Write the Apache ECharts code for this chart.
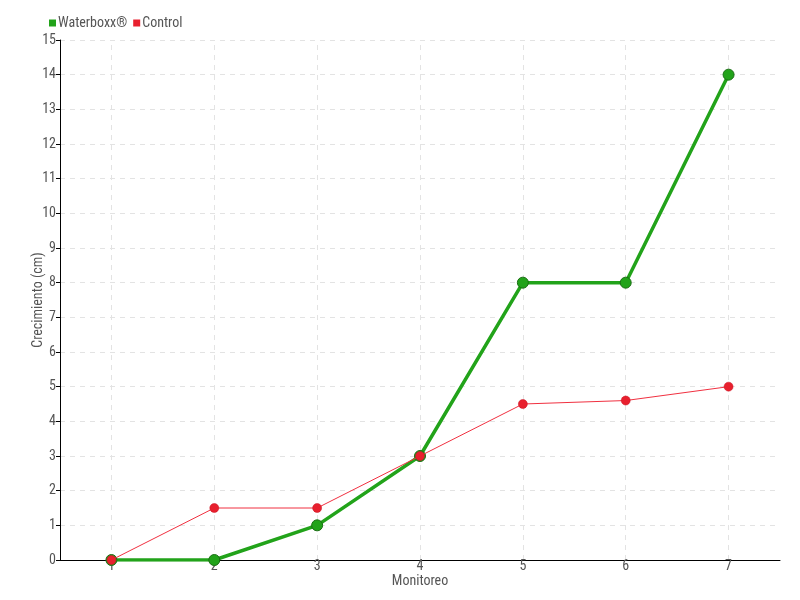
<!DOCTYPE html>
<html><head><meta charset="utf-8">
<script src="https://cdn.jsdelivr.net/npm/echarts@6/dist/echarts.min.js"></script>
<style>html,body{margin:0;padding:0;background:#fff}#c{width:800px;height:600px}</style>
</head><body><div id="c"></div>
<script>
const categories = ['1','2','3','4','5','6','7'];
const waterboxx = [0, 0, 1, 3, 8, 8, 14];
const control = [0, 1.5, 1.5, 3, 4.5, 4.6, 5];
const FONT = "'Roboto Condensed','Liberation Sans Narrow','Roboto',sans-serif";
const chart = echarts.init(document.getElementById('c'));
chart.setOption({
  animation: false,
  textStyle: {fontFamily: FONT},
  legend: {
    left: 44, top: 11, itemWidth: 7, itemHeight: 7, itemGap: 6,
    icon: 'rect',
    itemStyle: {borderWidth: 0},
    textStyle: {fontFamily: FONT, fontSize: 14, color: '#555', padding: [0,0,0,-3]},
    data: ['Waterboxx®', 'Control']
  },
  grid: {left: 60, right: 20, top: 40, bottom: 40},
  xAxis: {
    type: 'category', data: categories, boundaryGap: true,
    name: 'Monitoreo', nameLocation: 'middle', nameGap: 14, nameMoveOverlap: false,
    nameTextStyle: {fontFamily: FONT, fontSize: 14, color: '#555'},
    axisLine: {lineStyle: {color: '#000', width: 1}},
    axisTick: {alignWithLabel: true, length: 4, lineStyle: {color: '#000'}},
    axisLabel: {fontFamily: FONT, fontSize: 14, color: '#555', margin: -1},
    splitLine: {show: false}
  },
  yAxis: {
    type: 'value', min: 0, max: 15, interval: 1,
    name: 'Crecimiento (cm)', nameLocation: 'middle', nameGap: 15, nameMoveOverlap: false,
    nameTextStyle: {fontFamily: FONT, fontSize: 14, color: '#555'},
    axisLine: {show: true, lineStyle: {color: '#000', width: 1}},
    axisTick: {show: true, length: 4, lineStyle: {color: '#000'}},
    axisLabel: {fontFamily: FONT, fontSize: 14, color: '#555', margin: 4},
    splitLine: {show: true, lineStyle: {color: '#e3e3e3', type: [5,5]}}
  },
  series: [
    {
      name: 'grid-v', type: 'line', data: [], z: 0, silent: true,
      markLine: {
        silent: true, symbol: 'none', label: {show: false}, z: 0,
        lineStyle: {color: '#e3e3e3', type: [5,5], width: 1},
        data: categories.map(c => ({xAxis: c}))
      }
    },
    {
      name: 'Waterboxx®', type: 'line', data: waterboxx,
      symbol: 'circle', symbolSize: 11,
      itemStyle: {color: '#22a31a', borderColor: '#1a6e14', borderWidth: 1},
      lineStyle: {color: '#22a31a', width: 3.5}, z: 2
    },
    {
      name: 'Control', type: 'line', data: control,
      symbol: 'circle', symbolSize: 9,
      itemStyle: {color: '#e8202e', borderColor: '#c81020', borderWidth: 0.5},
      lineStyle: {color: '#f03040', width: 1}, z: 3
    }
  ]
});
</script></body></html>
